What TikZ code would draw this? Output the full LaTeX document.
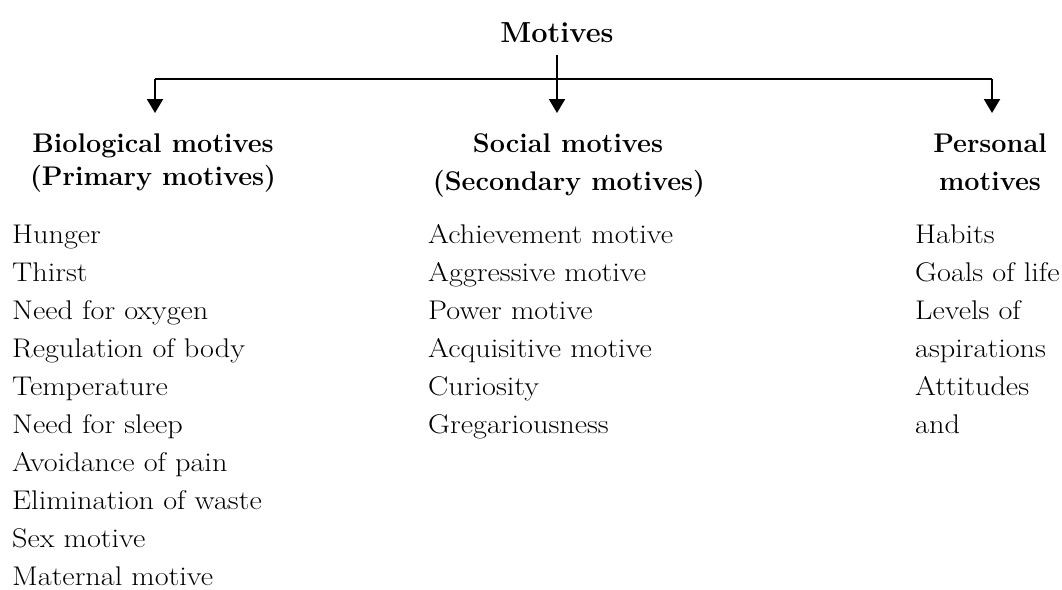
\documentclass[tikz,border=0pt]{standalone}
\usepackage{fontspec}
\newfontfamily\listfont{Latin Modern Roman}[FakeStretch=1.12]
\usetikzlibrary{arrows.meta}

\tikzset{
  head/.style={inner sep=0pt, anchor=base, font=\fontsize{27}{27}\selectfont\bfseries},
  item/.style={inner sep=0pt, anchor=base west, font=\listfont\fontsize{27}{27}\selectfont},
  link/.style={line width=2pt},
  down/.style={line width=2.2pt, -{Triangle[width=16pt,length=14pt]}},
}

\begin{document}
\begin{tikzpicture}[x=1pt,y=-1pt]
\useasboundingbox (0,0) rectangle (1062,589);

% root
\node[inner xsep=0pt, inner ysep=12pt, anchor=south, font=\fontsize{29}{29}\selectfont\bfseries] (m) at (557,55) {Motives};

% branch points and arrow tips
\coordinate (hl) at (155,79);
\coordinate (hc) at (557,79);
\coordinate (hr) at (992,79);
\coordinate (tl) at (155,113);
\coordinate (tc) at (557,113);
\coordinate (tr) at (992,113);

\draw[link] (hl) -- (hr);
\draw[down] (m.south) -- (tc);
\draw[down] (hl) -- (tl);
\draw[down] (hr) -- (tr);

% column headings
\node[head] (bio1) at (153,152) {Biological motives};
\node[head] (bio2) at (153,185) {(Primary motives)};
\node[head] (soc1) at (568,152) {Social motives};
\node[head] (soc2) at (569,190) {(Secondary motives)};
\node[head] (per1) at (990,152) {Personal};
\node[head] (per2) at (990,190) {motives};

% lists
\foreach \t [count=\i] in {Hunger,Thirst,Need for oxygen,Regulation of body,Temperature,Need for sleep,Avoidance of pain,Elimination of waste,Sex motive,Maternal motive}
  \node[item] (b\i) at (12,{243+38*(\i-1)}) {\t};

\foreach \t [count=\i] in {Achievement motive,Aggressive motive,Power motive,Acquisitive motive,Curiosity,Gregariousness}
  \node[item] (s\i) at (428,{243+38*(\i-1)}) {\t};

\foreach \t [count=\i] in {Habits,Goals of life,Levels of,aspirations,Attitudes,and}
  \node[item] (p\i) at (915,{243+38*(\i-1)}) {\t};

\end{tikzpicture}
\end{document}
